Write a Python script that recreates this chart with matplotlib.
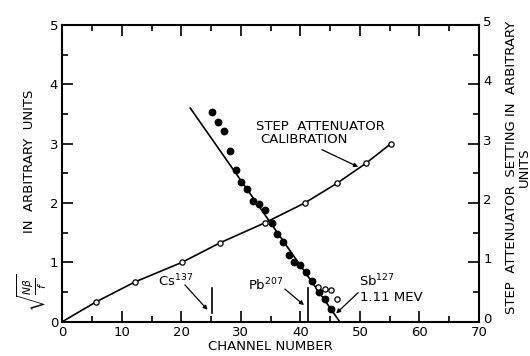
import numpy as np
import matplotlib.pyplot as plt
import matplotlib.transforms as mtransforms
from matplotlib.ticker import MultipleLocator

# step attenuator calibration (open circles)
cal_x = [0, 5.6, 12.2, 20.1, 26.5, 34.1, 40.7, 46.1, 51.0, 55.2]
cal_y = [0, 0.33, 0.67, 1.0, 1.33, 1.67, 2.0, 2.33, 2.67, 3.0]

# measured points (filled dots)
dot_x = [25.2, 26.1, 27.2, 28.2, 29.1, 30.0, 31.1, 32.0, 33.1, 34.0,
         35.3, 36.0, 37.0, 38.1, 39.0, 40.0, 40.9, 42.0, 43.2, 44.1, 45.1]
dot_y = [3.53, 3.36, 3.22, 2.88, 2.55, 2.36, 2.24, 2.04, 1.98, 1.89,
         1.67, 1.47, 1.35, 1.12, 1.00, 0.96, 0.83, 0.68, 0.50, 0.39, 0.21]

# extra open points near the end
open_x = [43.0, 44.1, 45.1, 46.2]
open_y = [0.58, 0.55, 0.54, 0.38]

# straight line fitted through the dots
fit_x = [21.5, 46.6]
fit_y = [3.6, 0.0]

# line markers: (x, y bottom, y top)
markers = [(25.1, 0.15, 0.57), (41.2, 0.0, 0.57)]

plt.rcParams['font.family'] = 'DejaVu Sans'
plt.rcParams['mathtext.fontset'] = 'dejavusans'

fig = plt.figure(figsize=(5.3, 3.56), dpi=100)
ax = fig.add_axes([0.1175, 0.0963, 0.7863, 0.8334])

ax.plot(cal_x, cal_y, color='black', lw=1.2, zorder=2)
ax.plot(cal_x[1:], cal_y[1:], 'o', ms=3.8, mfc='white', mec='black', mew=0.9, zorder=3)
ax.plot(fit_x, fit_y, color='black', lw=1.2, zorder=2)
ax.plot(dot_x, dot_y, 'o', ms=4.6, color='black', zorder=3)
ax.plot(open_x, open_y, 'o', ms=3.8, mfc='white', mec='black', mew=0.9, zorder=3)

for mx, y0, y1 in markers:
    ax.plot([mx, mx], [y0, y1], color='black', lw=1.2)

arrow = dict(arrowstyle='-|>', color='black', lw=0.9, mutation_scale=6, shrinkA=0, shrinkB=0)
ax.annotate('', xy=(24.4, 0.20), xytext=(20.6, 0.62), arrowprops=arrow)
ax.annotate('', xy=(40.6, 0.28), xytext=(37.4, 0.55), arrowprops=arrow)
ax.annotate('', xy=(46.0, 0.14), xytext=(49.7, 0.49), arrowprops=arrow)
ax.annotate('', xy=(49.7, 2.61), xytext=(43.6, 2.90), arrowprops=arrow)

fs = 9.5
ax.text(16.0, 0.68, r'Cs$^{137}$', fontsize=fs, ha='left', va='center')
ax.text(31.2, 0.62, r'Pb$^{207}$', fontsize=fs, ha='left', va='center')
ax.text(49.8, 0.69, r'Sb$^{127}$', fontsize=fs, ha='left', va='center')
ax.text(50.0, 0.40, '1.11 MEV', fontsize=fs, ha='left', va='center')
ax.text(32.6, 3.29, 'STEP  ATTENUATOR', fontsize=fs, ha='left', va='center')
ax.text(33.3, 3.07, 'CALIBRATION', fontsize=fs, ha='left', va='center')

ax.set_xlim(0, 70)
ax.set_ylim(0, 5)
ax.xaxis.set_major_locator(MultipleLocator(10))
ax.xaxis.set_minor_locator(MultipleLocator(5))
ax.yaxis.set_major_locator(MultipleLocator(1))
ax.yaxis.set_minor_locator(MultipleLocator(0.5))
ax.tick_params(which='both', direction='in', top=True, right=True,
               labelright=True, width=1.2, labelsize=fs, pad=3)
ax.tick_params(which='major', length=8)
ax.tick_params(which='minor', length=4.5)
for sp in ax.spines.values():
    sp.set_linewidth(1.5)

# right tick labels sit a little higher in the original
shift_up = mtransforms.ScaledTranslation(0, 4 / 100, fig.dpi_scale_trans)
for tick in ax.yaxis.get_major_ticks():
    tick.label2.set_transform(tick.label2.get_transform() + shift_up)

ax.set_xlabel('CHANNEL NUMBER', fontsize=fs, labelpad=1)
fig.text(30 / 530, 1 - 161 / 356, 'IN  ARBITRARY  UNITS', rotation=90,
         fontsize=fs, ha='center', va='center')
fig.text(32 / 530, 1 - 293 / 356, r'$\sqrt{\frac{N\beta}{f}}$', rotation=90,
         fontsize=11, ha='center', va='center')
fig.text(518 / 530, 1 - 167 / 356, 'STEP  ATTENUATOR  SETTING IN  ARBITRARY\nUNITS',
         rotation=90, fontsize=fs, ha='center', va='center',
         multialignment='center', linespacing=1.0)

fig.savefig('out.png', dpi=100)
